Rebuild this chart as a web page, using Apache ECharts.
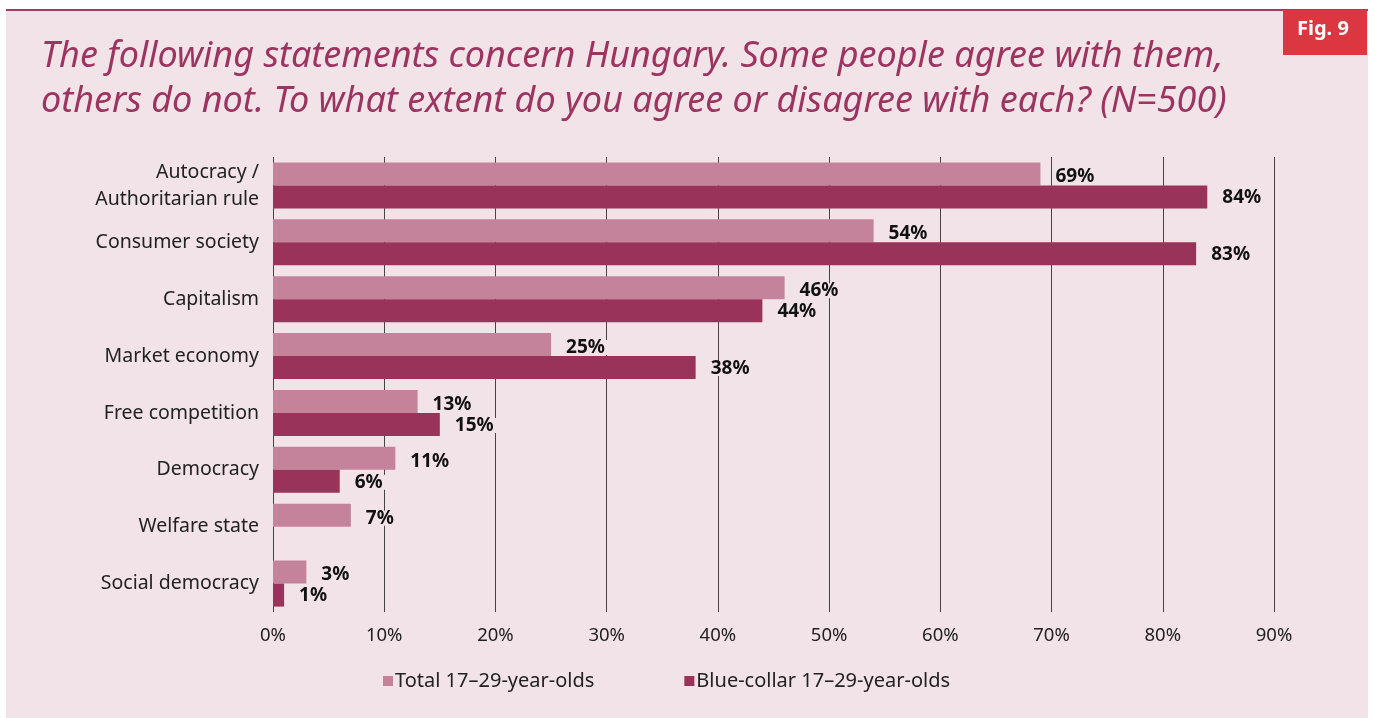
<!DOCTYPE html>
<html><head><meta charset="utf-8">
<script src="https://cdn.jsdelivr.net/npm/echarts@6/dist/echarts.min.js"></script>
<style>html,body{margin:0;padding:0;background:#fff;}#c{width:1375px;height:718px;}</style>
</head><body><div id="c"></div>
<script>
const categories = ['Autocracy /\nAuthoritarian rule','Consumer society','Capitalism','Market economy','Free competition','Democracy','Welfare state','Social democracy'];
const totalValues = [69,54,46,25,13,11,7,3];
const blueCollarValues = [84,83,44,38,15,6,null,1];
const seriesNames = ['Total 17\u201329-year-olds','Blue-collar 17\u201329-year-olds'];
const titleText = 'The following statements concern Hungary. Some people agree with them,\nothers do not. To what extent do you agree or disagree with each? (N=500)';

const BG = '#f2e3e8';
const chart = echarts.init(document.getElementById('c'), null, {renderer:'canvas'});
const labelStyle = {
  show: true, position: 'right', distance: 12,
  formatter: p => p.value == null ? '' : p.value + '%',
  fontFamily: 'Noto Sans', fontWeight: 'bold', fontSize: 19, color: '#111',
  lineHeight: 15, backgroundColor: BG, padding: [0, 3, 0, 3]
};
chart.setOption({
  animation: false,
  backgroundColor: '#fff',
  graphic: [
    {type:'rect', left:6, top:10, shape:{width:1362, height:708}, style:{fill:BG}, z:-10},
    {type:'rect', left:6, top:9, shape:{width:1362, height:2}, style:{fill:'#a33b63'}, z:-9},
    {type:'rect', left:1283, top:10, shape:{width:84, height:45}, style:{fill:'#dc3640'}, z:-8},
    {type:'text', left:1297, top:19, style:{text:'Fig. 9', fill:'#fff', font:'bold 20px "Noto Sans"'}}
  ],
  title: {
    text: titleText, left: 36, top: 29,
    textStyle: {fontFamily:'Noto Sans', fontStyle:'italic', fontWeight:'normal', fontSize:36, color:'#9b3560', lineHeight:45}
  },
  legend: {
    bottom: 22, left: 378, itemWidth: 10, itemHeight: 10, itemGap: 90,
    icon: 'rect',
    textStyle: {fontFamily:'Noto Sans', fontSize:20, color:'#222', padding:[0,0,0,-3]},
    data: seriesNames
  },
  grid: {left: 273, right: 101, top: 157, bottom: 106},
  xAxis: {
    type:'value', min:0, max:90, interval:10,
    axisLine:{show:false}, axisTick:{show:false},
    splitLine:{show:true, lineStyle:{color:'#444', width:1}},
    axisLabel:{formatter:'{value}%', fontFamily:'Noto Sans', fontSize:18.5, color:'#222', margin:14}
  },
  yAxis: {
    type:'category', data: categories, inverse: true,
    axisLine:{show:false}, axisTick:{show:false},
    axisLabel:{fontFamily:'Noto Sans', fontSize:19.5, color:'#222', margin:14, lineHeight:27}
  },
  series: [
    {name: seriesNames[0], type:'bar', data: totalValues, barGap:'0%', barCategoryGap:'19%',
     itemStyle:{color:'#c4839b'}, label: Object.assign({}, labelStyle, {offset:[0,3]})},
    {name: seriesNames[1], type:'bar', data: blueCollarValues, barGap:'0%', barCategoryGap:'19%',
     itemStyle:{color:'#99335a'}, label: Object.assign({}, labelStyle, {offset:[0,1]})}
  ]
});
</script></body></html>
